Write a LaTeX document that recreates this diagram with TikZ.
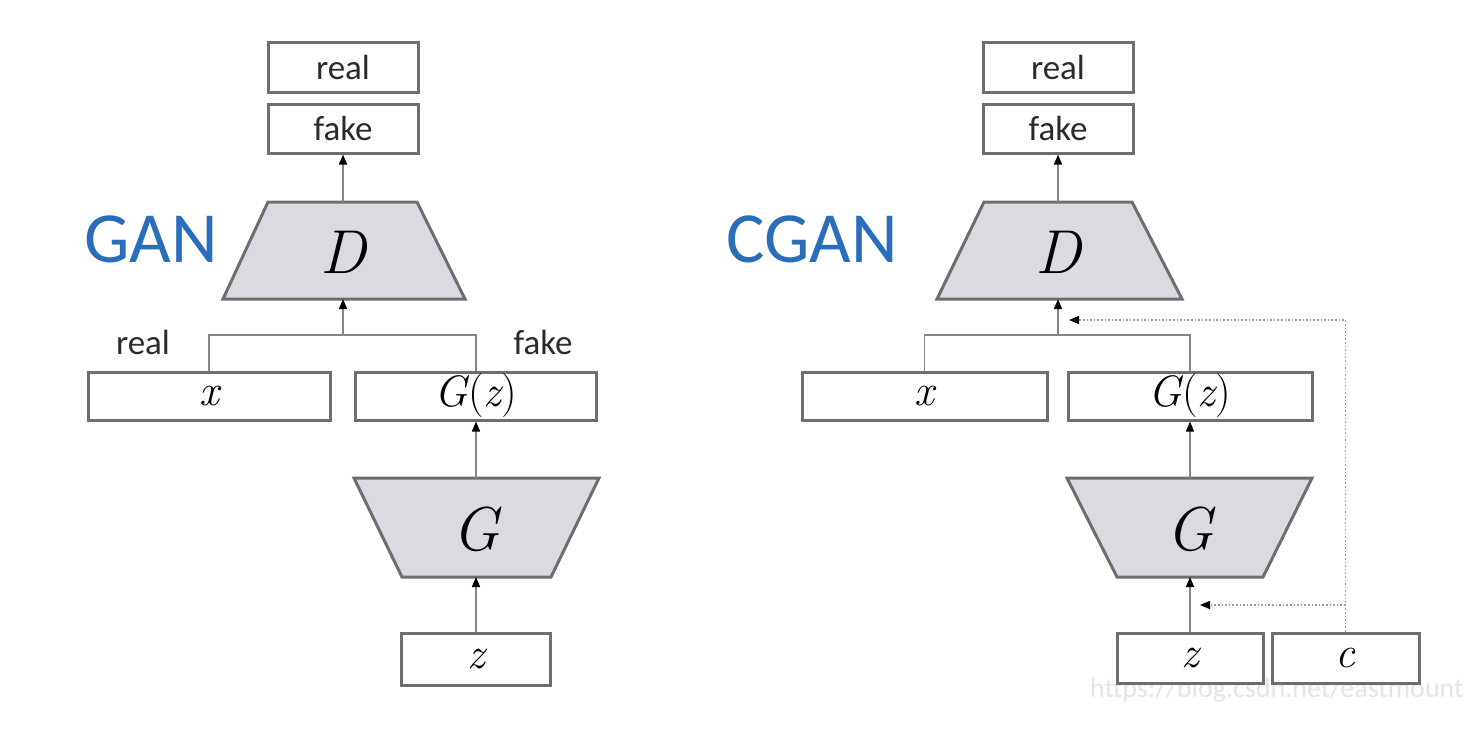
\documentclass[tikz,border=0pt]{standalone}
\usepackage{fontspec}
\setmainfont{Carlito}
\newfontfamily\lmr{Latin Modern Roman}
\usetikzlibrary{arrows.meta}
\definecolor{boxc}{HTML}{6E6E6E}
\definecolor{trapfill}{HTML}{DCDAE0}
\definecolor{ganblue}{HTML}{2A6EBB}
\definecolor{connc}{HTML}{858585}
\definecolor{txt}{HTML}{2B2B2B}
\newcommand{\mi}[1]{{\lmr\itshape #1}}
\begin{document}
\begin{tikzpicture}[x=0.5pt,y=-0.5pt,
  box/.style={draw=boxc, line width=1.5pt, fill=white, inner sep=0pt, text=txt,
    font=\fontsize{17.5}{20}\selectfont},
  mbox/.style={box, text=black, font=\fontsize{22}{24}\selectfont},
  trap/.style={draw=boxc, line width=1.5pt, fill=trapfill},
  traplabel/.style={inner sep=0pt, font=\fontsize{31}{33}\selectfont},
  title/.style={inner sep=0pt, text=ganblue, font=\fontsize{36}{40}\selectfont},
  lab/.style={inner sep=0pt, text=txt, font=\fontsize{17.5}{20}\selectfont},
  wire/.style={draw=connc, line width=0.8pt},
  conn/.style={wire, -{Triangle[length=5pt,width=4pt,color=black]}},
  dotconn/.style={draw=connc!80, line width=0.8pt, densely dotted, -{Triangle[length=5pt,width=4pt,color=black]}}
]
\useasboundingbox[fill=white] (0,0) rectangle (1470,736);

% watermark (behind everything)
\node[anchor=east, inner sep=0pt, text=black!10, font=\fontsize{14}{16}\selectfont] (wm) at (1464,690) {https://blog.csdn.net/eastmount};

% ---------------- GAN (left) ----------------
\node[title] (ganT) at (151,239) {GAN};
\node[box, minimum width=75pt, minimum height=25pt] (realL) at (343,67) {real};
\node[box, minimum width=75pt, minimum height=24.5pt] (fakeL) at (343,128.5) {fake};
\draw[trap] (268,202) -- (417,202) -- (465,299) -- (223,299) -- cycle;
\node[traplabel] (DL) at (343,252) {\mi{D}};
\coordinate (DtopL) at (343,202);
\coordinate (DbotL) at (343,299);
\coordinate (jL) at (343,335);
\node[lab] (realLab) at (143,342) {real};
\node[lab] (fakeLab) at (543,342) {fake};
\node[mbox, minimum width=121pt, minimum height=24pt] (xL) at (209,396) {\mi{x}};
\node[mbox, minimum width=120.5pt, minimum height=24pt] (GzL) at (476,396) {{\lmr\itshape G}{\lmr(}{\lmr\itshape z}{\lmr)}};
\draw[trap] (354,478) -- (599,478) -- (551,577) -- (402,577) -- cycle;
\node[traplabel] (GL) at (476,529) {\mi{G}};
\coordinate (GtopL) at (476,478);
\coordinate (GbotL) at (476,577);
\node[mbox, minimum width=74.5pt, minimum height=26pt] (zL) at (476,659) {\mi{z}};

\draw[conn] (DtopL) -- (fakeL.south);
\draw[wire] (xL.north) |- (jL) -| (GzL.north);
\draw[conn] (jL) -- (DbotL);
\draw[conn] (GtopL) -- (GzL.south);
\draw[conn] (zL.north) -- (GbotL);

% ---------------- CGAN (right) ----------------
\node[title] (cganT) at (812,239) {CGAN};
\node[box, minimum width=75pt, minimum height=25pt] (realR) at (1058,67) {real};
\node[box, minimum width=75pt, minimum height=24.5pt] (fakeR) at (1058,128.5) {fake};
\draw[trap] (984,202) -- (1132,202) -- (1182,299) -- (937,299) -- cycle;
\node[traplabel] (DR) at (1058,252) {\mi{D}};
\coordinate (DtopR) at (1058,202);
\coordinate (DbotR) at (1058,299);
\coordinate (jR) at (1058,335);
\node[mbox, minimum width=122.5pt, minimum height=24pt] (xR) at (924.5,396) {\mi{x}};
\node[mbox, minimum width=122pt, minimum height=24pt] (GzR) at (1190,396) {{\lmr\itshape G}{\lmr(}{\lmr\itshape z}{\lmr)}};
\draw[trap] (1067,478) -- (1312,478) -- (1263,577) -- (1117,577) -- cycle;
\node[traplabel] (GR) at (1190,529) {\mi{G}};
\coordinate (GtopR) at (1190,478);
\coordinate (GbotR) at (1190,577);
\node[mbox, minimum width=73pt, minimum height=25pt] (zR) at (1190,658) {\mi{z}};
\node[mbox, minimum width=73.5pt, minimum height=25pt] (cR) at (1345.5,658) {\mi{c}};
\coordinate (tipD) at (1069,320);
\coordinate (branchG) at (1345.5,605);
\coordinate (tipG) at (1200,605);

\draw[conn] (DtopR) -- (fakeR.south);
\draw[wire] (xR.north) |- (jR) -| (GzR.north);
\draw[conn] (jR) -- (DbotR);
\draw[conn] (GtopR) -- (GzR.south);
\draw[conn] (zR.north) -- (GbotR);
\draw[dotconn] (cR.north) |- (tipD);
\draw[dotconn] (branchG) -- (tipG);
\end{tikzpicture}
\end{document}
